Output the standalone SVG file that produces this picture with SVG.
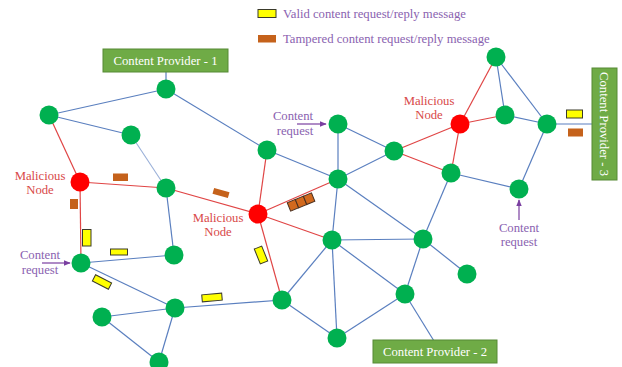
<svg xmlns="http://www.w3.org/2000/svg" width="622" height="367" viewBox="0 0 622 367">
<style>
text{font-family:"Liberation Serif","Times New Roman",serif;font-size:12.7px}
.b{stroke:#5a7fbf;stroke-width:1.2;fill:none}
.lb{stroke:#9ab0d8;stroke-width:1.1;fill:none}
.r{stroke:#e04545;stroke-width:1.2;fill:none}
.g{fill:#00b050}
.m{fill:#ff0000}
.cp{fill:#6fab46;stroke:#568a35;stroke-width:1}
.cpt{fill:#ffffff;text-anchor:middle}
.lab{fill:#8a62b0;text-anchor:middle}
.mal{fill:#d84848;text-anchor:middle}
.y{fill:#ffff00;stroke:#3a3a2a;stroke-width:1}
.br{fill:#c5621b}
.brs{fill:#d2691e;stroke:#4a3020;stroke-width:1}
.arr{stroke:#7a3fa0;stroke-width:1.2;fill:none}
</style>
<defs>
<marker id="ah" viewBox="0 0 10 10" refX="9" refY="5" markerWidth="6" markerHeight="6" orient="auto">
<path d="M0,1 L10,5 L0,9 z" fill="#7a3fa0"/>
</marker>
</defs>
<g id="legend">
<rect class="y" x="258" y="9.5" width="18" height="8"/>
<text x="283" y="18" fill="#8a62b0">Valid content request/reply message</text>
<rect class="br" x="258" y="35" width="18" height="7.5"/>
<text x="283" y="43" fill="#8a62b0">Tampered content request/reply message</text>
</g>
<g id="connectors">
<line class="b" x1="166" y1="72" x2="166" y2="89"/>
<line class="b" x1="166" y1="89" x2="49" y2="115"/>
<line class="b" x1="166" y1="89" x2="267" y2="150"/>
<line class="b" x1="49" y1="115" x2="131" y2="135"/>
<line class="lb" x1="131" y1="135" x2="166" y2="188"/>
<line class="b" x1="267" y1="150" x2="338" y2="179"/>
<line class="b" x1="338" y1="124" x2="338" y2="179"/>
<line class="b" x1="338" y1="124" x2="394" y2="151"/>
<line class="b" x1="394" y1="151" x2="338" y2="179"/>
<line class="r" x1="394" y1="151" x2="460" y2="124"/>
<line class="r" x1="394" y1="151" x2="451" y2="173"/>
<line class="r" x1="460" y1="124" x2="496" y2="57"/>
<line class="r" x1="460" y1="124" x2="505" y2="115"/>
<line class="r" x1="460" y1="124" x2="451" y2="173"/>
<line class="b" x1="496" y1="57" x2="505" y2="115"/>
<line class="b" x1="496" y1="57" x2="547" y2="124"/>
<line class="b" x1="505" y1="115" x2="547" y2="124"/>
<line class="b" x1="547" y1="124" x2="592" y2="124"/>
<line class="b" x1="547" y1="124" x2="519" y2="189"/>
<line class="b" x1="451" y1="173" x2="519" y2="189"/>
<line class="b" x1="451" y1="173" x2="423" y2="239"/>
<line class="b" x1="338" y1="179" x2="332" y2="240"/>
<line class="b" x1="338" y1="179" x2="423" y2="239"/>
<line class="b" x1="332" y1="240" x2="423" y2="239"/>
<line class="b" x1="332" y1="240" x2="282" y2="300"/>
<line class="b" x1="332" y1="240" x2="337" y2="338"/>
<line class="b" x1="332" y1="240" x2="405" y2="294"/>
<line class="b" x1="423" y1="239" x2="405" y2="294"/>
<line class="b" x1="423" y1="239" x2="467" y2="274"/>
<line class="b" x1="405" y1="294" x2="337" y2="338"/>
<line class="b" x1="405" y1="294" x2="434" y2="341"/>
<line class="b" x1="282" y1="300" x2="337" y2="338"/>
<line class="b" x1="282" y1="300" x2="175" y2="308"/>
<line class="b" x1="81" y1="263" x2="174" y2="255"/>
<line class="b" x1="81" y1="263" x2="175" y2="308"/>
<line class="b" x1="166" y1="188" x2="174" y2="255"/>
<line class="b" x1="175" y1="308" x2="102" y2="317"/>
<line class="b" x1="175" y1="308" x2="159" y2="362"/>
<line class="b" x1="102" y1="317" x2="159" y2="362"/>
<line class="r" x1="282" y1="300" x2="258" y2="214"/>
<line class="r" x1="258" y1="214" x2="267" y2="150"/>
<line class="r" x1="258" y1="214" x2="166" y2="188"/>
<line class="r" x1="258" y1="214" x2="338" y2="179"/>
<line class="r" x1="258" y1="214" x2="332" y2="240"/>
<line class="r" x1="80" y1="182" x2="49" y2="115"/>
<line class="r" x1="80" y1="182" x2="81" y2="263"/>
<line class="r" x1="80" y1="182" x2="166" y2="188"/>
<line class="arr" x1="297" y1="124" x2="326" y2="124" marker-end="url(#ah)"/>
<line class="arr" x1="42" y1="263" x2="70" y2="263" marker-end="url(#ah)"/>
<line class="arr" x1="519" y1="220" x2="519" y2="200" marker-end="url(#ah)"/>
</g>
<g id="cp1"><rect class="cp" x="103" y="49" width="125" height="23"/><text class="cpt" x="165.5" y="65">Content Provider - 1</text></g>
<g id="cp2"><rect class="cp" x="373" y="340" width="124" height="23"/><text class="cpt" x="435" y="356">Content Provider - 2</text></g>
<g id="cp3"><rect class="cp" x="592" y="68" width="25" height="112"/><text class="cpt" transform="translate(600,124) rotate(90)" x="0" y="0">Content Provider - 3</text></g>
<g id="nA"><circle class="g" cx="166" cy="89" r="9.5"/></g>
<g id="nB"><circle class="g" cx="49" cy="115" r="9.5"/></g>
<g id="nC"><circle class="g" cx="131" cy="135" r="9.5"/></g>
<g id="nD"><circle class="g" cx="267" cy="150" r="9.5"/></g>
<g id="nM1"><circle class="m" cx="80" cy="182" r="9.5"/></g>
<g id="nE"><circle class="g" cx="166" cy="188" r="9.5"/></g>
<g id="nF"><circle class="g" cx="338" cy="124" r="9.5"/></g>
<g id="nG"><circle class="g" cx="394" cy="151" r="9.5"/></g>
<g id="nM3"><circle class="m" cx="460" cy="124" r="9.5"/></g>
<g id="nH"><circle class="g" cx="496" cy="57" r="9.5"/></g>
<g id="nI"><circle class="g" cx="505" cy="115" r="9.5"/></g>
<g id="nJ"><circle class="g" cx="547" cy="124" r="9.5"/></g>
<g id="nK"><circle class="g" cx="451" cy="173" r="9.5"/></g>
<g id="nL"><circle class="g" cx="519" cy="189" r="9.5"/></g>
<g id="nN"><circle class="g" cx="338" cy="179" r="9.5"/></g>
<g id="nM2"><circle class="m" cx="258" cy="214" r="9.5"/></g>
<g id="nO"><circle class="g" cx="332" cy="240" r="9.5"/></g>
<g id="nP"><circle class="g" cx="423" cy="239" r="9.5"/></g>
<g id="nQ"><circle class="g" cx="467" cy="274" r="9.5"/></g>
<g id="nR"><circle class="g" cx="405" cy="294" r="9.5"/></g>
<g id="nS"><circle class="g" cx="337" cy="338" r="9.5"/></g>
<g id="nT"><circle class="g" cx="282" cy="300" r="9.5"/></g>
<g id="nU"><circle class="g" cx="174" cy="255" r="9.5"/></g>
<g id="nV"><circle class="g" cx="81" cy="263" r="9.5"/></g>
<g id="nW"><circle class="g" cx="175" cy="308" r="9.5"/></g>
<g id="nX"><circle class="g" cx="102" cy="317" r="9.5"/></g>
<g id="nY"><circle class="g" cx="159" cy="362" r="9.5"/></g>
<g id="labels">
<text class="mal" x="40" y="180">Malicious</text>
<text class="mal" x="40" y="194">Node</text>
<text class="mal" x="218" y="222">Malicious</text>
<text class="mal" x="218" y="236">Node</text>
<text class="mal" x="429" y="105">Malicious</text>
<text class="mal" x="429" y="119">Node</text>
<text class="lab" x="293" y="120">Content</text>
<text class="lab" x="295" y="135">request</text>
<text class="lab" x="40" y="259">Content</text>
<text class="lab" x="40" y="274">request</text>
<text class="lab" x="519" y="232">Content</text>
<text class="lab" x="519" y="246">request</text>
</g>
<g id="packets">
<rect class="y" x="566.5" y="110" width="16" height="8"/>
<rect class="br" x="568" y="128.5" width="15" height="8"/>
<rect class="br" x="113" y="173.5" width="15" height="7.5"/>
<rect class="br" x="70" y="199" width="8" height="10"/>
<rect class="y" x="82.5" y="229.5" width="8.5" height="16.5"/>
<rect class="y" x="110.5" y="249" width="17" height="6"/>
<rect class="y" x="-9" y="-3.5" width="18" height="7" transform="translate(102,282) rotate(27)"/>
<rect class="y" x="-10" y="-3.5" width="20" height="7" transform="translate(212,297.5) rotate(-5)"/>
<rect class="y" x="-4" y="-8" width="8" height="16" transform="translate(261,255) rotate(-22)"/>
<rect class="br" x="-8" y="-3" width="16" height="6" transform="translate(221,193) rotate(16)"/>
<g transform="translate(301,202) rotate(-22)">
<rect class="brs" x="-13" y="-4.5" width="8.7" height="9"/>
<rect class="brs" x="-4.3" y="-4.5" width="8.7" height="9"/>
<rect class="brs" x="4.4" y="-4.5" width="8.7" height="9"/>
</g>
</g>
</svg>
